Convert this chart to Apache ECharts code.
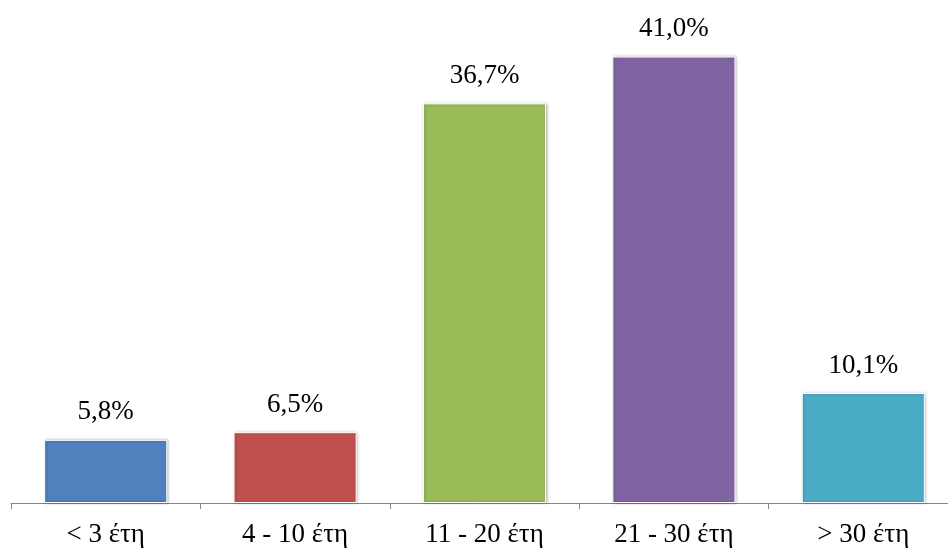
<!DOCTYPE html>
<html>
<head>
<meta charset="utf-8">
<script src="https://cdn.jsdelivr.net/npm/echarts@6/dist/echarts.min.js"></script>
<style>
  html, body { margin: 0; padding: 0; background: #ffffff; }
  #chart { width: 948px; height: 548px; }
</style>
</head>
<body>
<div id="chart"></div>
<script>
// Years-of-experience groups and their shares (%)
const categories = ['< 3 έτη', '4 - 10 έτη', '11 - 20 έτη', '21 - 30 έτη', '> 30 έτη'];
const shares = [5.8, 6.5, 36.7, 41.0, 10.1];
const barColors = ['#4F81BD', '#C0504D', '#9BBB59', '#8064A2', '#4BACC6'];

const fontFamily = '"Liberation Serif", "DejaVu Serif", serif';

const chart = echarts.init(document.getElementById('chart'));
chart.setOption({
  animation: false,
  // the last category runs slightly past the right edge of the canvas
  grid: { left: 11, top: 13, right: -10, bottom: 45, containLabel: false, outerBoundsMode: 'none' },
  xAxis: {
    type: 'category',
    data: categories,
    axisLine: { show: true, lineStyle: { color: '#868686', width: 1 } },
    axisTick: { show: true, alignWithLabel: false, length: 6, lineStyle: { color: '#868686' } },
    axisLabel: { color: '#000', fontFamily: fontFamily, fontSize: 27, margin: 18 }
  },
  yAxis: {
    type: 'value',
    min: 0,
    max: 45,
    show: false,
    splitLine: { show: false }
  },
  series: [{
    type: 'bar',
    barWidth: '65%',
    data: shares.map((v, i) => ({ value: v, itemStyle: { color: barColors[i] } })),
    itemStyle: {
      borderColor: '#ffffff',
      borderWidth: 1,
      shadowColor: 'rgba(0,0,0,0.28)',
      shadowBlur: 3,
      shadowOffsetX: 1,
      shadowOffsetY: 0
    },
    label: {
      show: true,
      position: 'top',
      distance: 14,
      color: '#000',
      fontFamily: fontFamily,
      fontSize: 27,
      formatter: p => p.value.toFixed(1).replace('.', ',') + '%'
    }
  }]
});
</script>
</body>
</html>
